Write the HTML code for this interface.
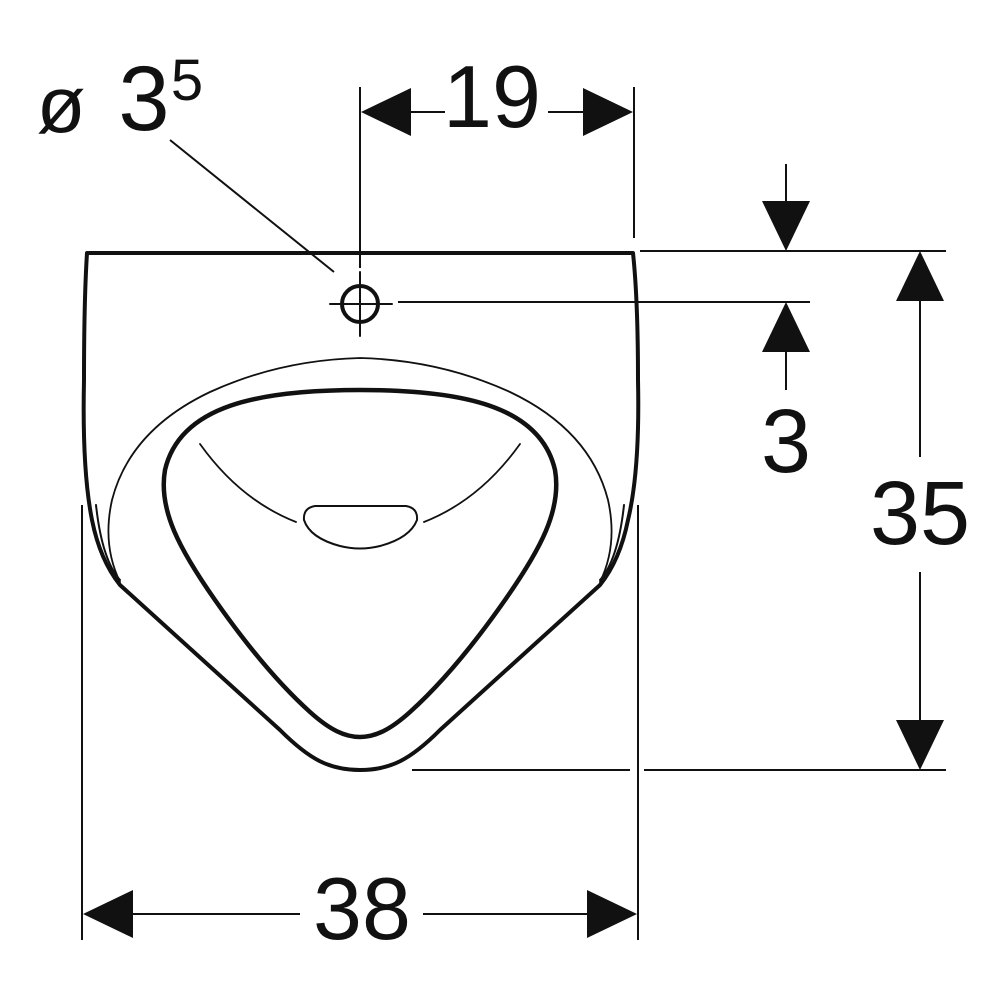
<!DOCTYPE html>
<html><head><style>html,body{margin:0;padding:0;background:#fff}svg{display:block}</style></head>
<body>
<svg width="1000" height="1000" viewBox="0 0 1000 1000" xmlns="http://www.w3.org/2000/svg">
<g fill="none" stroke="#111" stroke-linecap="round" stroke-linejoin="round">
  <!-- outer body -->
  <path d="M87,253 L633,253 Q638,300 638,380 Q640,470 628,520 Q620,560 600,585 L440,730 C410,760 390,770 360,770 C330,770 310,760 280,730 L120,585 Q100,560 92,520 Q82,470 84,380 Q84,300 87,253 Z" stroke-width="4"/>
  <path d="M96,505 Q102,560 120,580" stroke-width="2"/>
  <path d="M624,505 Q618,560 600,580" stroke-width="2"/>
  <!-- thin rim -->
  <path d="M120,582 Q102,545 112,500 Q130,430 210,392 Q280,360 360,358 Q440,360 510,392 Q590,430 608,500 Q618,545 600,582" stroke-width="1.8"/>
  <!-- basin -->
  <path d="M360,390 C460,390 540,405 555,470 C562,510 540,550 505,600 C470,650 440,685 410,712 C390,730 375,737 360,737 C345,737 330,730 310,712 C280,685 250,650 215,600 C180,550 158,510 165,470 C180,405 260,390 360,390 Z" stroke-width="4.5"/>
  <!-- inner curves -->
  <path d="M200,444 Q240,500 296,522" stroke-width="1.8"/>
  <path d="M520,444 Q480,500 424,522" stroke-width="1.8"/>
  <!-- drain -->
  <path d="M315,506 L406,506 Q418,508 417,520 Q410,538 380,546 Q360,551 340,546 Q310,538 304,520 Q303,508 315,506 Z" stroke-width="2"/>
  <!-- hole -->
  <circle cx="360" cy="304" r="18" stroke-width="4"/>
  <path d="M330,304 L392,304 M360,272 L360,336" stroke-width="2"/>
</g>
<g stroke="#111" stroke-width="2" fill="none">
  <line x1="360" y1="87" x2="360" y2="268"/>
  <line x1="634" y1="87" x2="634" y2="238"/>
  <line x1="410" y1="112" x2="445" y2="112"/>
  <line x1="548" y1="112" x2="585" y2="112"/>
  <line x1="170" y1="140" x2="334" y2="272"/>
  <line x1="640" y1="251" x2="946" y2="251"/>
  <line x1="398" y1="302" x2="810" y2="302"/>
  <line x1="412" y1="770" x2="630" y2="770"/>
  <line x1="644" y1="770" x2="946" y2="770"/>
  <line x1="786" y1="164" x2="786" y2="205"/>
  <line x1="786" y1="350" x2="786" y2="390"/>
  <line x1="920" y1="300" x2="920" y2="457"/>
  <line x1="920" y1="572" x2="920" y2="722"/>
  <line x1="82" y1="505" x2="82" y2="940"/>
  <line x1="638" y1="505" x2="638" y2="940"/>
  <line x1="130" y1="914" x2="300" y2="914"/>
  <line x1="423" y1="914" x2="590" y2="914"/>
</g>
<g fill="#111">
  <polygon points="361,112 411,88 411,136"/>
  <polygon points="633,112 583,88 583,136"/>
  <polygon points="786,251 762,201 810,201"/>
  <polygon points="786,302 762,352 810,352"/>
  <polygon points="920,251 896,301 944,301"/>
  <polygon points="920,770 896,720 944,720"/>
  <polygon points="83,914 133,890 133,938"/>
  <polygon points="637,914 587,890 587,938"/>
</g>
<g font-family="Liberation Sans, sans-serif" fill="#111" text-anchor="middle">
  <text x="492" y="127" font-size="88">19</text>
  <text x="786" y="472" font-size="90">3</text>
  <text x="920" y="544" font-size="90">35</text>
  <text x="362" y="939" font-size="88">38</text>
  <text x="61" y="132" font-size="80">ø</text>
  <text x="144" y="130" font-size="92">3</text>
  <text x="187" y="100" font-size="58">5</text>
</g>
</svg>
</body></html>
